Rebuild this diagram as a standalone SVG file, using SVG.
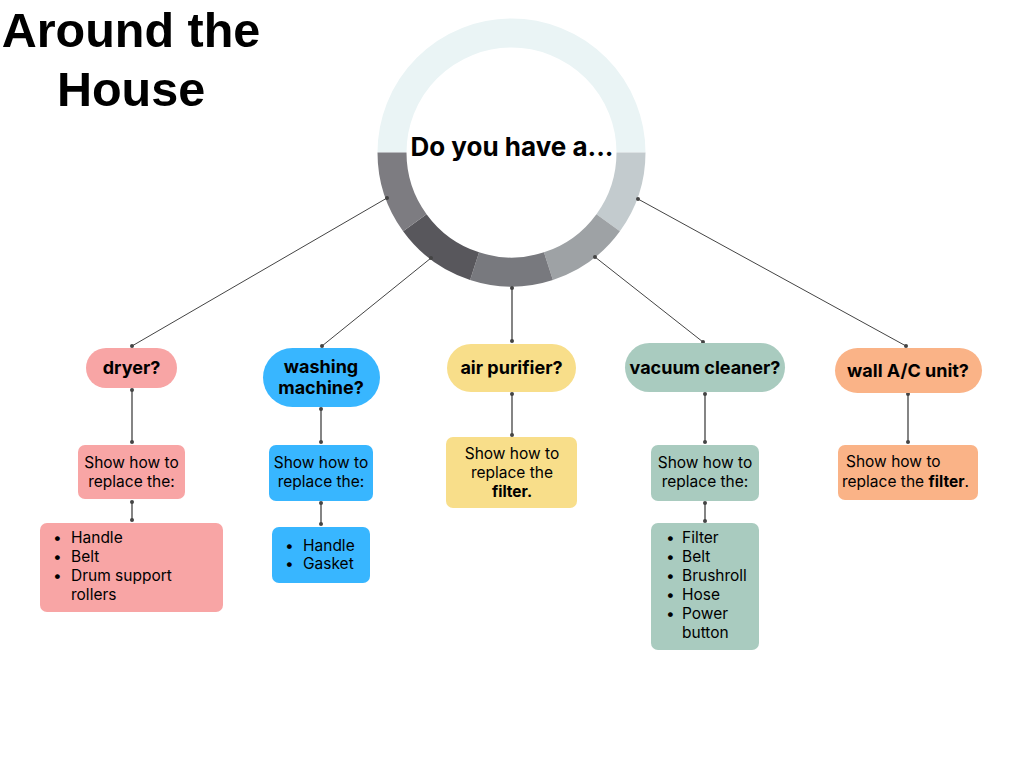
<svg xmlns="http://www.w3.org/2000/svg" width="1024" height="768" viewBox="0 0 1024 768">
<style>
.title{font-family:"Liberation Sans",Arial,sans-serif;font-weight:bold;font-size:48.5px;fill:#000;text-anchor:middle}
.q{font-family:Inter,"Noto Sans",sans-serif;font-weight:bold;font-size:18px;fill:#000;text-anchor:middle}
.t{font-family:Inter,"Noto Sans",sans-serif;font-size:15.5px;fill:#000}
.c{text-anchor:middle}
.b{font-weight:bold}
.ring{fill:none;stroke-width:29}
.ln{stroke:#444;stroke-width:1;fill:none}
.vl{stroke:#666;stroke-width:1.6;fill:none}
.dot{fill:#444}
</style>
<rect width="1024" height="768" fill="#fff"/>
<g id="title">
<text class="title" x="131" y="47">Around the</text>
<text class="title" x="131" y="106">House</text>
</g>
<g id="hub">
<path class="ring" stroke="#EAF4F5" d="M392,152.5 A119.5,119.5 0 0 1 631,152.5"/>
<path class="ring" stroke="#C3CBCE" d="M631,152.5 A119.5,119.5 0 0 1 608.18,222.74"/>
<path class="ring" stroke="#9EA2A5" d="M608.18,222.74 A119.5,119.5 0 0 1 548.43,266.16"/>
<path class="ring" stroke="#78797E" d="M548.43,266.16 A119.5,119.5 0 0 1 474.57,266.16"/>
<path class="ring" stroke="#58575C" d="M474.57,266.16 A119.5,119.5 0 0 1 414.82,222.74"/>
<path class="ring" stroke="#7D7C81" d="M414.82,222.74 A119.5,119.5 0 0 1 392,152.5"/>
<text x="512" y="156" font-family="Inter,'Noto Sans',sans-serif" font-weight="bold" font-size="26" text-anchor="middle" fill="#000">Do you have a...</text>
</g>
<g id="connectors">
<line class="ln" x1="387" y1="198" x2="132" y2="346"/>
<line class="ln" x1="431" y1="258" x2="322" y2="346"/>
<line class="vl" x1="512" y1="288" x2="512" y2="341"/>
<line class="ln" x1="595" y1="257" x2="703" y2="342"/>
<line class="ln" x1="638" y1="199" x2="906" y2="346"/>
<line class="vl" x1="132" y1="390" x2="132" y2="442"/>
<line class="vl" x1="132" y1="502" x2="132" y2="520"/>
<line class="vl" x1="321" y1="409" x2="321" y2="442"/>
<line class="vl" x1="321" y1="503" x2="321" y2="524"/>
<line class="vl" x1="512" y1="394" x2="512" y2="435"/>
<line class="vl" x1="705" y1="394" x2="705" y2="442"/>
<line class="vl" x1="705" y1="503" x2="705" y2="521"/>
<line class="vl" x1="908" y1="394" x2="908" y2="442"/>
<circle class="dot" cx="387" cy="198" r="2"/><circle class="dot" cx="132" cy="346" r="2"/>
<circle class="dot" cx="431" cy="258" r="2"/><circle class="dot" cx="322" cy="346" r="2"/>
<circle class="dot" cx="512" cy="288" r="2"/><circle class="dot" cx="512" cy="341" r="2"/>
<circle class="dot" cx="595" cy="257" r="2"/><circle class="dot" cx="703" cy="342" r="2"/>
<circle class="dot" cx="638" cy="199" r="2"/><circle class="dot" cx="906" cy="346" r="2"/>
<circle class="dot" cx="132" cy="390" r="2"/><circle class="dot" cx="132" cy="442" r="2"/>
<circle class="dot" cx="132" cy="502" r="2"/><circle class="dot" cx="132" cy="520" r="2"/>
<circle class="dot" cx="321" cy="409" r="2"/><circle class="dot" cx="321" cy="442" r="2"/>
<circle class="dot" cx="321" cy="503" r="2"/><circle class="dot" cx="321" cy="524" r="2"/>
<circle class="dot" cx="512" cy="394" r="2"/><circle class="dot" cx="512" cy="435" r="2"/>
<circle class="dot" cx="705" cy="394" r="2"/><circle class="dot" cx="705" cy="442" r="2"/>
<circle class="dot" cx="705" cy="503" r="2"/><circle class="dot" cx="705" cy="521" r="2"/>
<circle class="dot" cx="908" cy="394" r="2"/><circle class="dot" cx="908" cy="442" r="2"/>
</g>
<g id="dryer">
<rect x="86" y="348" width="91" height="40" rx="20" fill="#F8A5A5"/>
<text class="q" x="131.5" y="374">dryer?</text>
</g>
<g id="dryer-how">
<rect x="78" y="445" width="107" height="54" rx="7" fill="#F8A5A5"/>
<text class="t c" x="131.5" y="468">Show how to</text>
<text class="t c" x="131.5" y="487">replace the:</text>
</g>
<g id="dryer-list">
<rect x="40" y="523" width="183" height="89" rx="7" fill="#F8A5A5"/>
<g class="t">
<text x="53" y="543">•</text><text x="71" y="543">Handle</text>
<text x="53" y="562">•</text><text x="71" y="562">Belt</text>
<text x="53" y="581">•</text><text x="71" y="581">Drum support</text>
<text x="71" y="600">rollers</text>
</g>
</g>
<g id="washing">
<rect x="263" y="348" width="117" height="59" rx="29.5" fill="#38B6FF"/>
<text class="q" x="321" y="373">washing</text>
<text class="q" x="321" y="394">machine?</text>
</g>
<g id="washing-how">
<rect x="269" y="445" width="104" height="56" rx="7" fill="#38B6FF"/>
<text class="t c" x="321" y="468">Show how to</text>
<text class="t c" x="321" y="487">replace the:</text>
</g>
<g id="washing-list">
<rect x="272" y="527" width="98" height="56" rx="7" fill="#38B6FF"/>
<g class="t">
<text x="285" y="551">•</text><text x="303" y="551">Handle</text>
<text x="285" y="569">•</text><text x="303" y="569">Gasket</text>
</g>
</g>
<g id="air">
<rect x="447" y="344" width="129" height="48" rx="24" fill="#F8DE8A"/>
<text class="q" x="511.5" y="374">air purifier?</text>
</g>
<g id="air-how">
<rect x="446" y="437" width="131" height="71" rx="7" fill="#F8DE8A"/>
<text class="t c" x="512" y="459">Show how to</text>
<text class="t c" x="512" y="478">replace the</text>
<text class="t c b" x="512" y="497">filter.</text>
</g>
<g id="vacuum">
<rect x="625" y="343" width="160" height="49" rx="24.5" fill="#A9CBBF"/>
<text class="q" x="705" y="374">vacuum cleaner?</text>
</g>
<g id="vacuum-how">
<rect x="651" y="445" width="108" height="56" rx="7" fill="#A9CBBF"/>
<text class="t c" x="705" y="468">Show how to</text>
<text class="t c" x="705" y="487">replace the:</text>
</g>
<g id="vacuum-list">
<rect x="651" y="523" width="108" height="127" rx="7" fill="#A9CBBF"/>
<g class="t">
<text x="666" y="543">•</text><text x="682" y="543">Filter</text>
<text x="666" y="562">•</text><text x="682" y="562">Belt</text>
<text x="666" y="581">•</text><text x="682" y="581">Brushroll</text>
<text x="666" y="600">•</text><text x="682" y="600">Hose</text>
<text x="666" y="619">•</text><text x="682" y="619">Power</text>
<text x="682" y="638">button</text>
</g>
</g>
<g id="wall">
<rect x="835" y="348" width="147" height="45" rx="22.5" fill="#FAB387"/>
<text class="q" x="908" y="377">wall A/C unit?</text>
</g>
<g id="wall-how">
<rect x="838" y="445" width="140" height="55" rx="7" fill="#FAB387"/>
<text class="t" x="846" y="467">Show how to</text>
<text class="t" x="842" y="487">replace the <tspan class="b">filter</tspan>.</text>
</g>
</svg>
